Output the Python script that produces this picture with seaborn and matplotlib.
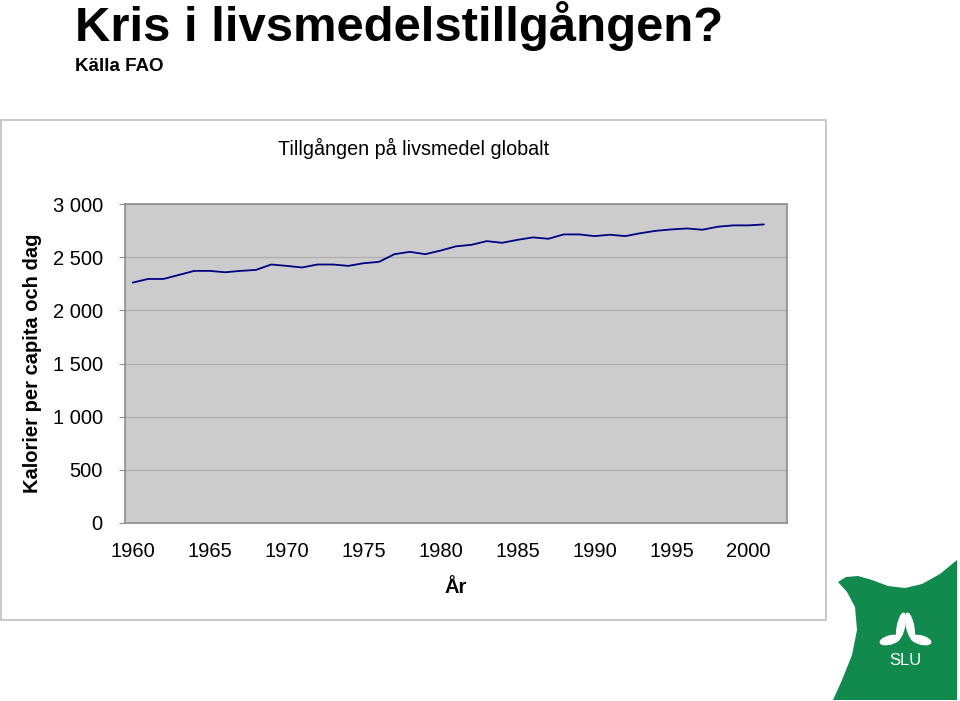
import matplotlib
matplotlib.use("Agg")
import matplotlib.pyplot as plt
from matplotlib.patches import Rectangle, Polygon, Ellipse
from matplotlib.ticker import FuncFormatter, FixedLocator
import seaborn as sns
import pandas as pd

# ---- data ----
years = list(range(1960, 2002))
kcal = [2261, 2295, 2295, 2333, 2371, 2371, 2358, 2371, 2380, 2431,
        2418, 2403, 2431, 2431, 2418, 2443, 2456, 2528, 2550, 2528,
        2562, 2602, 2616, 2651, 2635, 2663, 2686, 2673, 2714, 2714,
        2698, 2711, 2698, 2726, 2748, 2761, 2770, 2758, 2786, 2799,
        2799, 2808]
x_tick_labels = [1960, 1965, 1970, 1975, 1980, 1985, 1990, 1995, 2000]
y_ticks = [0, 500, 1000, 1500, 2000, 2500, 3000]

title = "Kris i livsmedelstillgången?"
source = "Källa FAO"
chart_title = "Tillgången på livsmedel globalt"
xlabel = "År"
ylabel = "Kalorier per capita och dag"

df = pd.DataFrame({"year": years, "kcal": kcal})

sns.set_style("white")
plt.rcParams["font.family"] = ["Liberation Sans", "DejaVu Sans"]
plt.rcParams["text.color"] = "black"
plt.rcParams["xtick.color"] = "black"
plt.rcParams["ytick.color"] = "black"
plt.rcParams["axes.labelcolor"] = "black"

W, H = 960, 701
fig = plt.figure(figsize=(W / 100, H / 100), dpi=100)

def fx(px):
    return px / W

def fy(py):
    return 1 - py / H

# chart frame
fig.add_artist(Rectangle((fx(1), fy(620)), fx(825), 500 / H, fill=False,
                         edgecolor="#C4C4C4", lw=1.3, transform=fig.transFigure))

left, right, top, bottom = 125, 787, 204, 523
ax = fig.add_axes([fx(left), fy(bottom), fx(right - left), (bottom - top) / H])
ax.set_facecolor("#CCCCCC")

sns.lineplot(data=df, x="year", y="kcal", ax=ax, color="#000080", lw=1.3)

ax.set_xlim(1959.5, 2002.5)
ax.set_ylim(0, 3000)

ax.yaxis.set_major_locator(FixedLocator(y_ticks))
ax.yaxis.set_major_formatter(FuncFormatter(lambda v, p: f"{int(v):,}".replace(",", " ")))
ax.grid(axis="y", color="#ADADAD", lw=0.9)
ax.grid(axis="x", visible=False)

ax.xaxis.set_major_locator(FixedLocator(x_tick_labels))
ax.xaxis.set_minor_locator(FixedLocator([y - 0.5 for y in x_tick_labels]))
ax.tick_params(axis="x", which="major", length=0, pad=14, labelsize=14.5, labelcolor="black")
ax.tick_params(axis="x", which="minor", length=4, width=0.8, color="#909090", direction="out")
ax.tick_params(axis="y", which="major", length=4, width=0.8, color="#909090",
               direction="out", pad=12, labelsize=14.5, left=True, labelcolor="black")

for side in ["left", "bottom", "top", "right"]:
    ax.spines[side].set_visible(True)
    ax.spines[side].set_color("#8C8C8C")
    ax.spines[side].set_linewidth(1.2)

ax.set_xlabel(xlabel, fontsize=14.5, fontweight="bold", labelpad=12, color="black")
ax.set_ylabel("")
fig.text(fx(33), fy(363), ylabel, rotation=90, fontsize=14.5, fontweight="bold",
         ha="center", va="center", color="black")

fig.text(fx(414), fy(155), chart_title, fontsize=14.2, ha="center", va="baseline", color="black")
fig.text(fx(75), fy(41), title, fontsize=35.3, fontweight="bold", ha="left", va="baseline", color="black")
fig.text(fx(75), fy(71), source, fontsize=13.5, fontweight="bold", ha="left", va="baseline", color="black")

# SLU logo (decoration)
lx0, lx1, ly0, ly1 = 830, 960, 555, 701
lax = fig.add_axes([fx(lx0), fy(ly1), fx(lx1 - lx0), (ly1 - ly0) / H])
lax.set_xlim(lx0, lx1)
lax.set_ylim(ly1, ly0)
lax.axis("off")
green = "#128A4E"
shape = [(838, 582), (846, 577), (858, 576), (872, 580), (888, 586), (905, 588),
         (922, 584), (940, 574), (957, 560), (957, 700), (833, 700), (842, 680),
         (852, 655), (857, 630), (855, 607), (847, 592)]
lax.add_patch(Polygon(shape, closed=True, facecolor=green, edgecolor="none"))
lax.add_patch(Ellipse((901, 626), 7, 26, angle=12, facecolor="white"))
lax.add_patch(Ellipse((910, 626), 7, 26, angle=-12, facecolor="white"))
lax.add_patch(Ellipse((890, 640), 20, 8, angle=-15, facecolor="white"))
lax.add_patch(Ellipse((921, 640), 20, 8, angle=15, facecolor="white"))
lax.text(905, 660, "SLU", color="white", fontsize=12, ha="center", va="center",
         family=["Liberation Sans", "DejaVu Sans"])

fig.savefig("out.png", dpi=100)
